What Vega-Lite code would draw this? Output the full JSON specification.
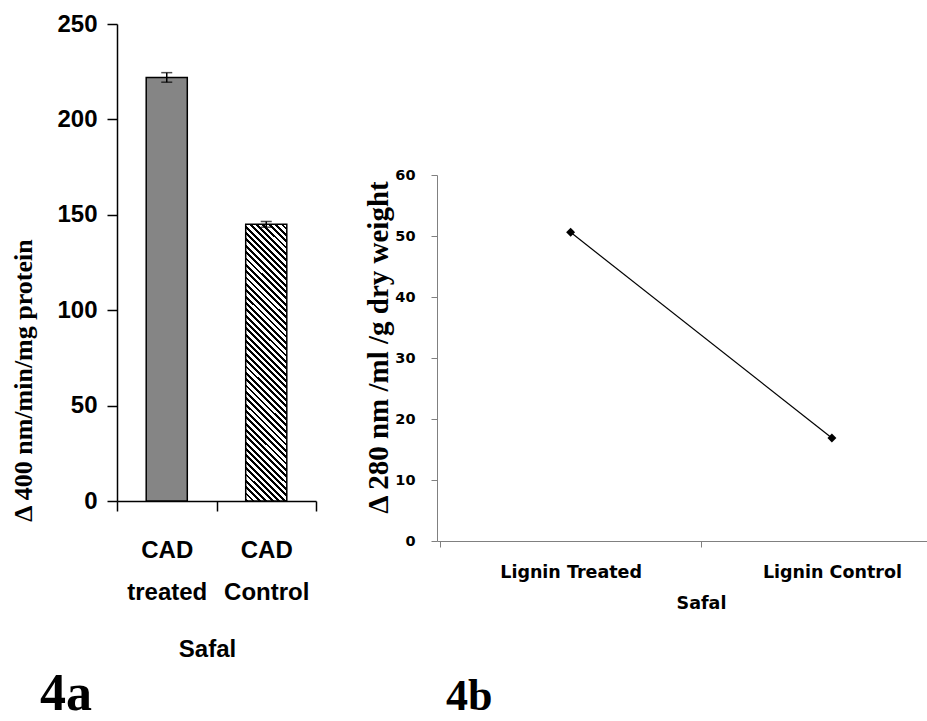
{
 "$schema": "https://vega.github.io/schema/vega-lite/v6.json",
 "padding": {"left": 10, "top": 12, "right": 0, "bottom": 0},
 "background": "#ffffff",
 "config": {"view": {"stroke": null}, "axis": {"grid": false}},
 "datasets": {
  "cad": [
   {"sample": "CAD treated", "value": 222, "err": 2.5},
   {"sample": "CAD Control", "value": 145, "err": 1.5}
  ],
  "lignin": [
   {"sample": "Lignin Treated", "value": 50.6},
   {"sample": "Lignin Control", "value": 16.9}
  ],
  "blank": [{"t": ""}]
 },
 "bounds": "flush",
 "spacing": 121,
 "hconcat": [
  {
   "width": 199,
   "height": 477,
   "data": {"name": "cad"},
   "title": {"text": "4a", "orient": "bottom", "anchor": "start", "frame": "group", "dx": -77, "offset": 8, "font": "Liberation Serif", "fontSize": 52, "fontWeight": "bold", "color": "#000"},
   "encoding": {
    "x": {
     "field": "sample", "type": "nominal",
     "scale": {"domain": ["CAD treated", "CAD Control"], "paddingInner": 0, "paddingOuter": 0},
     "axis": {"title": "Safal", "labelExpr": "split(datum.label, ' ')", "labelAngle": 0, "tickBand": "extent", "domainColor": "#000", "domainWidth": 1.5, "tickColor": "#000", "tickWidth": 1.5, "tickSize": 10, "labelPadding": 27, "labelFont": "Liberation Sans", "labelFontSize": 24, "labelFontWeight": "bold", "labelLineHeight": 42, "labelColor": "#000", "titleFont": "Liberation Sans", "titleFontSize": 24, "titleFontWeight": "bold", "titleColor": "#000", "titleX": 90, "titleY": 136, "titleAlign": "center", "titleBaseline": "top"}
    },
    "y": {
     "field": "value", "type": "quantitative",
     "scale": {"domain": [0, 250]},
     "axis": {"title": "Δ 400 nm/min/mg protein", "values": [0, 50, 100, 150, 200, 250], "domainColor": "#000", "domainWidth": 1.5, "tickColor": "#000", "tickWidth": 1.5, "tickSize": 10, "labelPadding": 10, "labelFont": "Liberation Sans", "labelFontSize": 24, "labelFontWeight": "bold", "labelColor": "#000", "titleFont": "Liberation Serif", "titleFontSize": 26, "titleFontWeight": "bold", "titleColor": "#000", "titleX": -94, "titleY": 356, "titleAlign": "center", "titleBaseline": "middle", "titleAngle": -90}
    }
   },
   "layer": [
    {
     "transform": [{"filter": "datum.sample === 'CAD treated'"}],
     "mark": {"type": "bar", "width": {"band": 0.413}, "fill": "#858585", "stroke": "#000", "strokeWidth": 1.5}
    },
    {
     "transform": [{"filter": "datum.sample === 'CAD Control'"}],
     "mark": {"type": "bar", "width": {"band": 0.413}, "stroke": "#000", "strokeWidth": 1.5,
      "fill": {"gradient": "linear", "x1": 0, "y1": 1, "x2": 0.1663, "y2": -0.1234, "stops": [
       {"offset": 0, "color": "#000"}, {"offset": 0.009, "color": "#000"}, {"offset": 0.009, "color": "#fff"}, {"offset": 0.02, "color": "#fff"},
       {"offset": 0.02, "color": "#000"}, {"offset": 0.029, "color": "#000"}, {"offset": 0.029, "color": "#fff"}, {"offset": 0.04, "color": "#fff"},
       {"offset": 0.04, "color": "#000"}, {"offset": 0.049, "color": "#000"}, {"offset": 0.049, "color": "#fff"}, {"offset": 0.06, "color": "#fff"},
       {"offset": 0.06, "color": "#000"}, {"offset": 0.069, "color": "#000"}, {"offset": 0.069, "color": "#fff"}, {"offset": 0.08, "color": "#fff"},
       {"offset": 0.08, "color": "#000"}, {"offset": 0.089, "color": "#000"}, {"offset": 0.089, "color": "#fff"}, {"offset": 0.1, "color": "#fff"},
       {"offset": 0.1, "color": "#000"}, {"offset": 0.109, "color": "#000"}, {"offset": 0.109, "color": "#fff"}, {"offset": 0.12, "color": "#fff"},
       {"offset": 0.12, "color": "#000"}, {"offset": 0.129, "color": "#000"}, {"offset": 0.129, "color": "#fff"}, {"offset": 0.14, "color": "#fff"},
       {"offset": 0.14, "color": "#000"}, {"offset": 0.149, "color": "#000"}, {"offset": 0.149, "color": "#fff"}, {"offset": 0.16, "color": "#fff"},
       {"offset": 0.16, "color": "#000"}, {"offset": 0.169, "color": "#000"}, {"offset": 0.169, "color": "#fff"}, {"offset": 0.18, "color": "#fff"},
       {"offset": 0.18, "color": "#000"}, {"offset": 0.189, "color": "#000"}, {"offset": 0.189, "color": "#fff"}, {"offset": 0.2, "color": "#fff"},
       {"offset": 0.2, "color": "#000"}, {"offset": 0.209, "color": "#000"}, {"offset": 0.209, "color": "#fff"}, {"offset": 0.22, "color": "#fff"},
       {"offset": 0.22, "color": "#000"}, {"offset": 0.229, "color": "#000"}, {"offset": 0.229, "color": "#fff"}, {"offset": 0.24, "color": "#fff"},
       {"offset": 0.24, "color": "#000"}, {"offset": 0.249, "color": "#000"}, {"offset": 0.249, "color": "#fff"}, {"offset": 0.26, "color": "#fff"},
       {"offset": 0.26, "color": "#000"}, {"offset": 0.269, "color": "#000"}, {"offset": 0.269, "color": "#fff"}, {"offset": 0.28, "color": "#fff"},
       {"offset": 0.28, "color": "#000"}, {"offset": 0.289, "color": "#000"}, {"offset": 0.289, "color": "#fff"}, {"offset": 0.3, "color": "#fff"},
       {"offset": 0.3, "color": "#000"}, {"offset": 0.309, "color": "#000"}, {"offset": 0.309, "color": "#fff"}, {"offset": 0.32, "color": "#fff"},
       {"offset": 0.32, "color": "#000"}, {"offset": 0.329, "color": "#000"}, {"offset": 0.329, "color": "#fff"}, {"offset": 0.34, "color": "#fff"},
       {"offset": 0.34, "color": "#000"}, {"offset": 0.349, "color": "#000"}, {"offset": 0.349, "color": "#fff"}, {"offset": 0.36, "color": "#fff"},
       {"offset": 0.36, "color": "#000"}, {"offset": 0.369, "color": "#000"}, {"offset": 0.369, "color": "#fff"}, {"offset": 0.38, "color": "#fff"},
       {"offset": 0.38, "color": "#000"}, {"offset": 0.389, "color": "#000"}, {"offset": 0.389, "color": "#fff"}, {"offset": 0.4, "color": "#fff"},
       {"offset": 0.4, "color": "#000"}, {"offset": 0.409, "color": "#000"}, {"offset": 0.409, "color": "#fff"}, {"offset": 0.42, "color": "#fff"},
       {"offset": 0.42, "color": "#000"}, {"offset": 0.429, "color": "#000"}, {"offset": 0.429, "color": "#fff"}, {"offset": 0.44, "color": "#fff"},
       {"offset": 0.44, "color": "#000"}, {"offset": 0.449, "color": "#000"}, {"offset": 0.449, "color": "#fff"}, {"offset": 0.46, "color": "#fff"},
       {"offset": 0.46, "color": "#000"}, {"offset": 0.469, "color": "#000"}, {"offset": 0.469, "color": "#fff"}, {"offset": 0.48, "color": "#fff"},
       {"offset": 0.48, "color": "#000"}, {"offset": 0.489, "color": "#000"}, {"offset": 0.489, "color": "#fff"}, {"offset": 0.5, "color": "#fff"},
       {"offset": 0.5, "color": "#000"}, {"offset": 0.509, "color": "#000"}, {"offset": 0.509, "color": "#fff"}, {"offset": 0.52, "color": "#fff"},
       {"offset": 0.52, "color": "#000"}, {"offset": 0.529, "color": "#000"}, {"offset": 0.529, "color": "#fff"}, {"offset": 0.54, "color": "#fff"},
       {"offset": 0.54, "color": "#000"}, {"offset": 0.549, "color": "#000"}, {"offset": 0.549, "color": "#fff"}, {"offset": 0.56, "color": "#fff"},
       {"offset": 0.56, "color": "#000"}, {"offset": 0.569, "color": "#000"}, {"offset": 0.569, "color": "#fff"}, {"offset": 0.58, "color": "#fff"},
       {"offset": 0.58, "color": "#000"}, {"offset": 0.589, "color": "#000"}, {"offset": 0.589, "color": "#fff"}, {"offset": 0.6, "color": "#fff"},
       {"offset": 0.6, "color": "#000"}, {"offset": 0.609, "color": "#000"}, {"offset": 0.609, "color": "#fff"}, {"offset": 0.62, "color": "#fff"},
       {"offset": 0.62, "color": "#000"}, {"offset": 0.629, "color": "#000"}, {"offset": 0.629, "color": "#fff"}, {"offset": 0.64, "color": "#fff"},
       {"offset": 0.64, "color": "#000"}, {"offset": 0.649, "color": "#000"}, {"offset": 0.649, "color": "#fff"}, {"offset": 0.66, "color": "#fff"},
       {"offset": 0.66, "color": "#000"}, {"offset": 0.669, "color": "#000"}, {"offset": 0.669, "color": "#fff"}, {"offset": 0.68, "color": "#fff"},
       {"offset": 0.68, "color": "#000"}, {"offset": 0.689, "color": "#000"}, {"offset": 0.689, "color": "#fff"}, {"offset": 0.7, "color": "#fff"},
       {"offset": 0.7, "color": "#000"}, {"offset": 0.709, "color": "#000"}, {"offset": 0.709, "color": "#fff"}, {"offset": 0.72, "color": "#fff"},
       {"offset": 0.72, "color": "#000"}, {"offset": 0.729, "color": "#000"}, {"offset": 0.729, "color": "#fff"}, {"offset": 0.74, "color": "#fff"},
       {"offset": 0.74, "color": "#000"}, {"offset": 0.749, "color": "#000"}, {"offset": 0.749, "color": "#fff"}, {"offset": 0.76, "color": "#fff"},
       {"offset": 0.76, "color": "#000"}, {"offset": 0.769, "color": "#000"}, {"offset": 0.769, "color": "#fff"}, {"offset": 0.78, "color": "#fff"},
       {"offset": 0.78, "color": "#000"}, {"offset": 0.789, "color": "#000"}, {"offset": 0.789, "color": "#fff"}, {"offset": 0.8, "color": "#fff"},
       {"offset": 0.8, "color": "#000"}, {"offset": 0.809, "color": "#000"}, {"offset": 0.809, "color": "#fff"}, {"offset": 0.82, "color": "#fff"},
       {"offset": 0.82, "color": "#000"}, {"offset": 0.829, "color": "#000"}, {"offset": 0.829, "color": "#fff"}, {"offset": 0.84, "color": "#fff"},
       {"offset": 0.84, "color": "#000"}, {"offset": 0.849, "color": "#000"}, {"offset": 0.849, "color": "#fff"}, {"offset": 0.86, "color": "#fff"},
       {"offset": 0.86, "color": "#000"}, {"offset": 0.869, "color": "#000"}, {"offset": 0.869, "color": "#fff"}, {"offset": 0.88, "color": "#fff"},
       {"offset": 0.88, "color": "#000"}, {"offset": 0.889, "color": "#000"}, {"offset": 0.889, "color": "#fff"}, {"offset": 0.9, "color": "#fff"},
       {"offset": 0.9, "color": "#000"}, {"offset": 0.909, "color": "#000"}, {"offset": 0.909, "color": "#fff"}, {"offset": 0.92, "color": "#fff"},
       {"offset": 0.92, "color": "#000"}, {"offset": 0.929, "color": "#000"}, {"offset": 0.929, "color": "#fff"}, {"offset": 0.94, "color": "#fff"},
       {"offset": 0.94, "color": "#000"}, {"offset": 0.949, "color": "#000"}, {"offset": 0.949, "color": "#fff"}, {"offset": 0.96, "color": "#fff"},
       {"offset": 0.96, "color": "#000"}, {"offset": 0.969, "color": "#000"}, {"offset": 0.969, "color": "#fff"}, {"offset": 0.98, "color": "#fff"},
       {"offset": 0.98, "color": "#000"}, {"offset": 0.989, "color": "#000"}, {"offset": 0.989, "color": "#fff"}, {"offset": 1, "color": "#fff"}
      ]}
     }
    },
    {
     "mark": {"type": "errorbar", "color": "#000", "thickness": 1.5, "ticks": {"size": 11, "color": "#000"}},
     "encoding": {"yError": {"field": "err"}}
    }
   ]
  },
  {
   "bounds": "flush",
   "spacing": 20,
   "vconcat": [
    {
     "width": 10,
     "height": 131,
     "data": {"name": "blank"},
     "mark": {"type": "text"},
     "encoding": {"text": {"field": "t", "type": "nominal"}}
    },
    {
     "width": 490,
     "height": 366,
     "data": {"name": "lignin"},
     "title": {"text": "4b", "orient": "bottom", "anchor": "start", "frame": "group", "dx": 9, "offset": 63, "font": "Liberation Serif", "fontSize": 44, "fontWeight": "bold", "color": "#000"},
     "encoding": {
      "x": {
       "field": "sample", "type": "nominal",
       "scale": {"type": "point", "domain": ["Lignin Treated", "Lignin Control"], "padding": 0.4377, "align": 0.5842},
       "axis": {"title": "Safal", "labelAngle": 0, "domainColor": "#808080", "tickColor": "#808080", "tickSize": 6, "tickOffset": -130.5, "labelOffset": 130.5, "labelPadding": 16, "labelFont": "DejaVu Sans", "labelFontSize": 17.5, "labelFontWeight": "bold", "labelColor": "#000", "titleFont": "DejaVu Sans", "titleFontSize": 17.5, "titleFontWeight": "bold", "titleColor": "#000", "titleX": 264, "titleY": 53, "titleAlign": "center", "titleBaseline": "top"}
      },
      "y": {
       "field": "value", "type": "quantitative",
       "scale": {"domain": [0, 60]},
       "axis": {"title": "Δ 280 nm /ml /g dry weight", "values": [0, 10, 20, 30, 40, 50, 60], "domainColor": "#808080", "tickColor": "#808080", "tickSize": 6, "labelPadding": 16, "labelFont": "DejaVu Sans", "labelFontSize": 14.5, "labelFontWeight": "bold", "labelColor": "#000", "titleFont": "Liberation Serif", "titleFontSize": 29, "titleFontWeight": "bold", "titleColor": "#000", "titleX": -59, "titleY": 172, "titleAlign": "center", "titleBaseline": "middle", "titleAngle": -90}
      }
     },
     "layer": [
      {"mark": {"type": "line", "color": "#000", "strokeWidth": 1.2}},
      {"mark": {"type": "point", "shape": "diamond", "filled": true, "color": "#000", "size": 80, "opacity": 1}}
     ]
    }
   ]
  }
 ]
}
